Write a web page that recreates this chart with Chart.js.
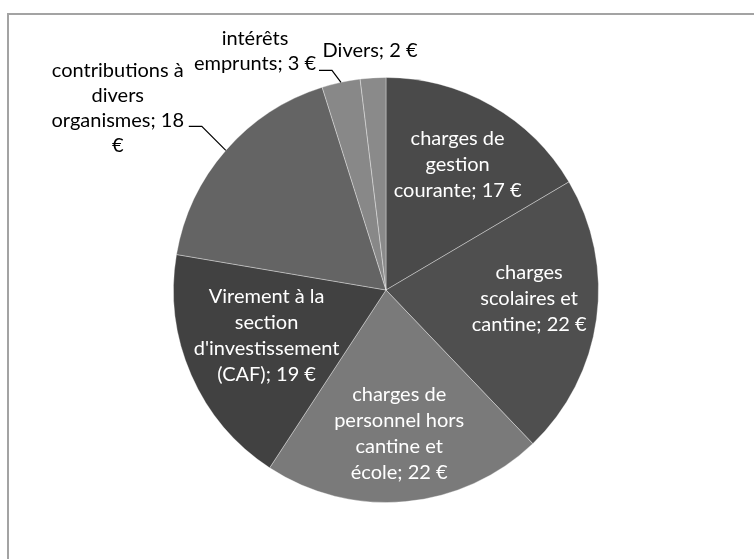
<!DOCTYPE html>
<html>
<head>
<meta charset="utf-8">
<script src="https://cdn.jsdelivr.net/npm/chart.js@4/dist/chart.umd.min.js"></script>
<style>
  html, body { margin: 0; padding: 0; background: #fff; }
</style>
</head>
<body>
<canvas id="myChart" width="754" height="559"></canvas>
<script>
// donnees du graphique
const categories = [
  "charges de gestion courante",
  "charges scolaires et cantine",
  "charges de personnel hors cantine et école",
  "Virement à la section d'investissement (CAF)",
  "contributions à divers organismes",
  "intérêts emprunts",
  "Divers"
];
const montants = [17, 22, 22, 19, 18, 3, 2];
const couleurs = ["#4a4a4a", "#4f4f4f", "#7a7a7a", "#414141", "#646464", "#888888", "#8a8a8a"];
// decoupage des etiquettes comme dans le tableur ({v} = valeur)
const lignes = [
  ["charges de", "gestion", "courante; {v} €"],
  ["charges", "scolaires et", "cantine; {v} €"],
  ["charges de", "personnel hors", "cantine et", "école; {v} €"],
  ["Virement à la", "section", "d'investissement", "(CAF); {v} €"],
  ["contributions à", "divers", "organismes; {v}", "€"],
  ["intérêts", "emprunts; {v} €"],
  ["Divers; {v} €"]
];

// placement des etiquettes (relatif a chaque part)
const placement = [
  { inside: true, r: 0.68, dx: 0, dy: 0 },
  { inside: true, r: 0.68, dx: 0, dy: -11 },
  { inside: true, r: 0.68, dx: 0, dy: 0 },
  { inside: true, r: 0.68, dx: 13, dy: -12 },
  { inside: false, dx: -108, dy: -80, elbow: [-24, -24], end: [-37, -24] },
  { inside: false, dx: -86, dy: -44, elbow: [-9, -12], end: [-22, -12] },
  { inside: false, dx: -3, dy: -27 }
];

const cadre = {
  id: "cadre",
  beforeDraw(chart) {
    const ctx = chart.ctx;
    ctx.save();
    ctx.strokeStyle = "#a3a3a3";
    ctx.lineWidth = 2;
    ctx.strokeRect(8, 14, 900, 700);
    ctx.restore();
  }
};

const etiquettes = {
  id: "etiquettes",
  afterDatasetsDraw(chart) {
    const ctx = chart.ctx;
    const arcs = chart.getDatasetMeta(0).data;
    ctx.save();
    ctx.font = "20px Lato";
    ctx.textAlign = "center";
    ctx.textBaseline = "middle";
    arcs.forEach(function (arc, i) {
      const p = placement[i];
      const mid = (arc.startAngle + arc.endAngle) / 2;
      const txt = lignes[i].map(l => l.replace("{v}", montants[i]));
      let cx, y0, pas;
      if (p.inside) {
        pas = 26;
        const r = arc.outerRadius * p.r;
        cx = arc.x + Math.cos(mid) * r + p.dx;
        const cy = arc.y + Math.sin(mid) * r + p.dy;
        y0 = cy - (txt.length - 1) * pas / 2;
        ctx.fillStyle = "#ffffff";
      } else {
        pas = 25;
        const ex = arc.x + Math.cos(mid) * arc.outerRadius;
        const ey = arc.y + Math.sin(mid) * arc.outerRadius;
        if (p.elbow) {
          ctx.beginPath();
          ctx.strokeStyle = "#000";
          ctx.lineWidth = 1.2;
          ctx.moveTo(ex, ey);
          ctx.lineTo(ex + p.elbow[0], ey + p.elbow[1]);
          ctx.lineTo(ex + p.end[0], ey + p.end[1]);
          ctx.stroke();
        }
        cx = ex + p.dx;
        y0 = ey + p.dy;
        ctx.fillStyle = "#000000";
      }
      txt.forEach(function (t, k) {
        ctx.fillText(t, cx, y0 + k * pas);
      });
    });
    ctx.restore();
  }
};

new Chart(document.getElementById("myChart").getContext("2d"), {
  type: "pie",
  data: {
    labels: categories,
    datasets: [{
      data: montants,
      backgroundColor: couleurs,
      borderColor: "rgba(255,255,255,0.35)",
      borderWidth: 1,
      hoverOffset: 0
    }]
  },
  options: {
    responsive: false,
    animation: false,
    events: [],
    layout: { padding: { left: 100, right: 82, top: 77, bottom: 56 } },
    plugins: {
      legend: { display: false },
      tooltip: { enabled: false }
    }
  },
  plugins: [cadre, etiquettes]
});
</script>
</body>
</html>
